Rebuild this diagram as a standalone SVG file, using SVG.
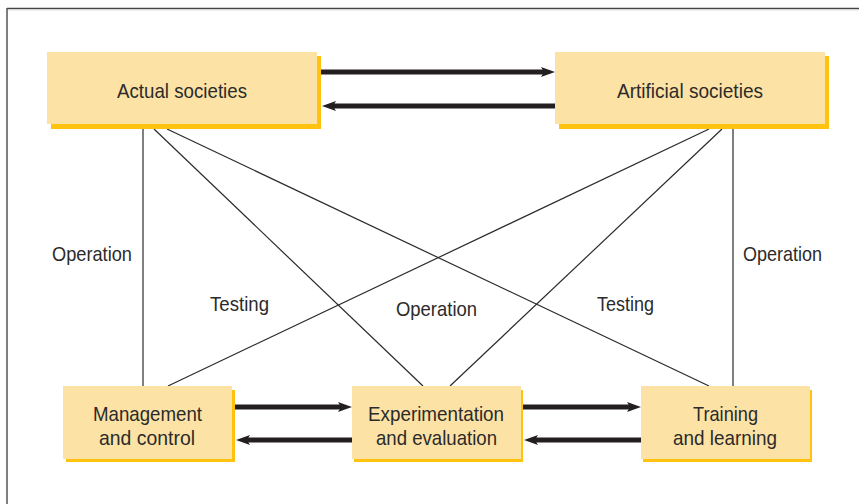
<svg xmlns="http://www.w3.org/2000/svg" width="859" height="504" viewBox="0 0 859 504">
<style>
.shadow{fill:#FFC20E}
.box{fill:#FDE2A5}
.lbl{font-family:"Liberation Sans",Arial,sans-serif;font-size:21px;fill:#2b2b2b}
.thin{stroke:#2b2b2b;stroke-width:1.2;fill:none}
.thick{stroke:#231f20;stroke-width:5;fill:none;marker-end:url(#ah)}
</style>
<defs>
<marker id="ah" markerUnits="userSpaceOnUse" markerWidth="16" markerHeight="12" refX="4" refY="6" orient="auto">
<path d="M0,1 L14,6 L0,11 L3,6 z" fill="#231f20"/>
</marker>
</defs>
<rect x="0" y="0" width="859" height="504" fill="#fff"/>
<g id="frame">
<line x1="7" y1="8.5" x2="859" y2="8.5" stroke="#444" stroke-width="1.5"/>
<line x1="7" y1="10" x2="859" y2="10" stroke="#ddd" stroke-width="1"/>
<line x1="7" y1="8" x2="7" y2="504" stroke="#555" stroke-width="1.5"/>
</g>
<g id="connectors">
<line class="thin" x1="143" y1="129" x2="143" y2="386"/>
<line class="thin" x1="154" y1="129" x2="423" y2="386"/>
<line class="thin" x1="167" y1="129" x2="709" y2="386"/>
<line class="thin" x1="709" y1="129" x2="168" y2="386"/>
<line class="thin" x1="722" y1="129" x2="450" y2="386"/>
<line class="thin" x1="733" y1="129" x2="733" y2="386"/>
<line class="thick" x1="321" y1="72" x2="545" y2="72"/>
<line class="thick" x1="555" y1="106" x2="332" y2="106"/>
<line class="thick" x1="235" y1="407" x2="342" y2="407"/>
<line class="thick" x1="352" y1="440" x2="246" y2="440"/>
<line class="thick" x1="523" y1="407" x2="631" y2="407"/>
<line class="thick" x1="641" y1="440" x2="534" y2="440"/>
<text class="lbl" x="52" y="261" textLength="80" lengthAdjust="spacingAndGlyphs">Operation</text>
<text class="lbl" x="210" y="311" textLength="59" lengthAdjust="spacingAndGlyphs">Testing</text>
<text class="lbl" x="396" y="316" textLength="81" lengthAdjust="spacingAndGlyphs">Operation</text>
<text class="lbl" x="597" y="311" textLength="57" lengthAdjust="spacingAndGlyphs">Testing</text>
<text class="lbl" x="743" y="261" textLength="79" lengthAdjust="spacingAndGlyphs">Operation</text>
</g>
<g id="actual">
<rect class="shadow" x="51" y="56" width="270" height="73"/>
<rect class="box" x="47" y="52" width="270" height="72"/>
<text class="lbl" x="117" y="98" textLength="130" lengthAdjust="spacingAndGlyphs">Actual societies</text>
</g>
<g id="artificial">
<rect class="shadow" x="559" y="56" width="270" height="73"/>
<rect class="box" x="555" y="52" width="270" height="72"/>
<text class="lbl" x="617" y="98" textLength="146" lengthAdjust="spacingAndGlyphs">Artificial societies</text>
</g>
<g id="management">
<rect class="shadow" x="66" y="390" width="169" height="72"/>
<rect class="box" x="63" y="386" width="169" height="73"/>
<text class="lbl" x="93" y="421" textLength="109" lengthAdjust="spacingAndGlyphs">Management</text>
<text class="lbl" x="99" y="445" textLength="96" lengthAdjust="spacingAndGlyphs">and control</text>
</g>
<g id="experimentation">
<rect class="shadow" x="354" y="390" width="169" height="72"/>
<rect class="box" x="352" y="386" width="169" height="73"/>
<text class="lbl" x="368" y="421" textLength="136" lengthAdjust="spacingAndGlyphs">Experimentation</text>
<text class="lbl" x="376" y="445" textLength="121" lengthAdjust="spacingAndGlyphs">and evaluation</text>
</g>
<g id="training">
<rect class="shadow" x="643" y="390" width="169" height="72"/>
<rect class="box" x="641" y="386" width="169" height="73"/>
<text class="lbl" x="693" y="421" textLength="65" lengthAdjust="spacingAndGlyphs">Training</text>
<text class="lbl" x="673" y="445" textLength="104" lengthAdjust="spacingAndGlyphs">and learning</text>
</g>
</svg>
